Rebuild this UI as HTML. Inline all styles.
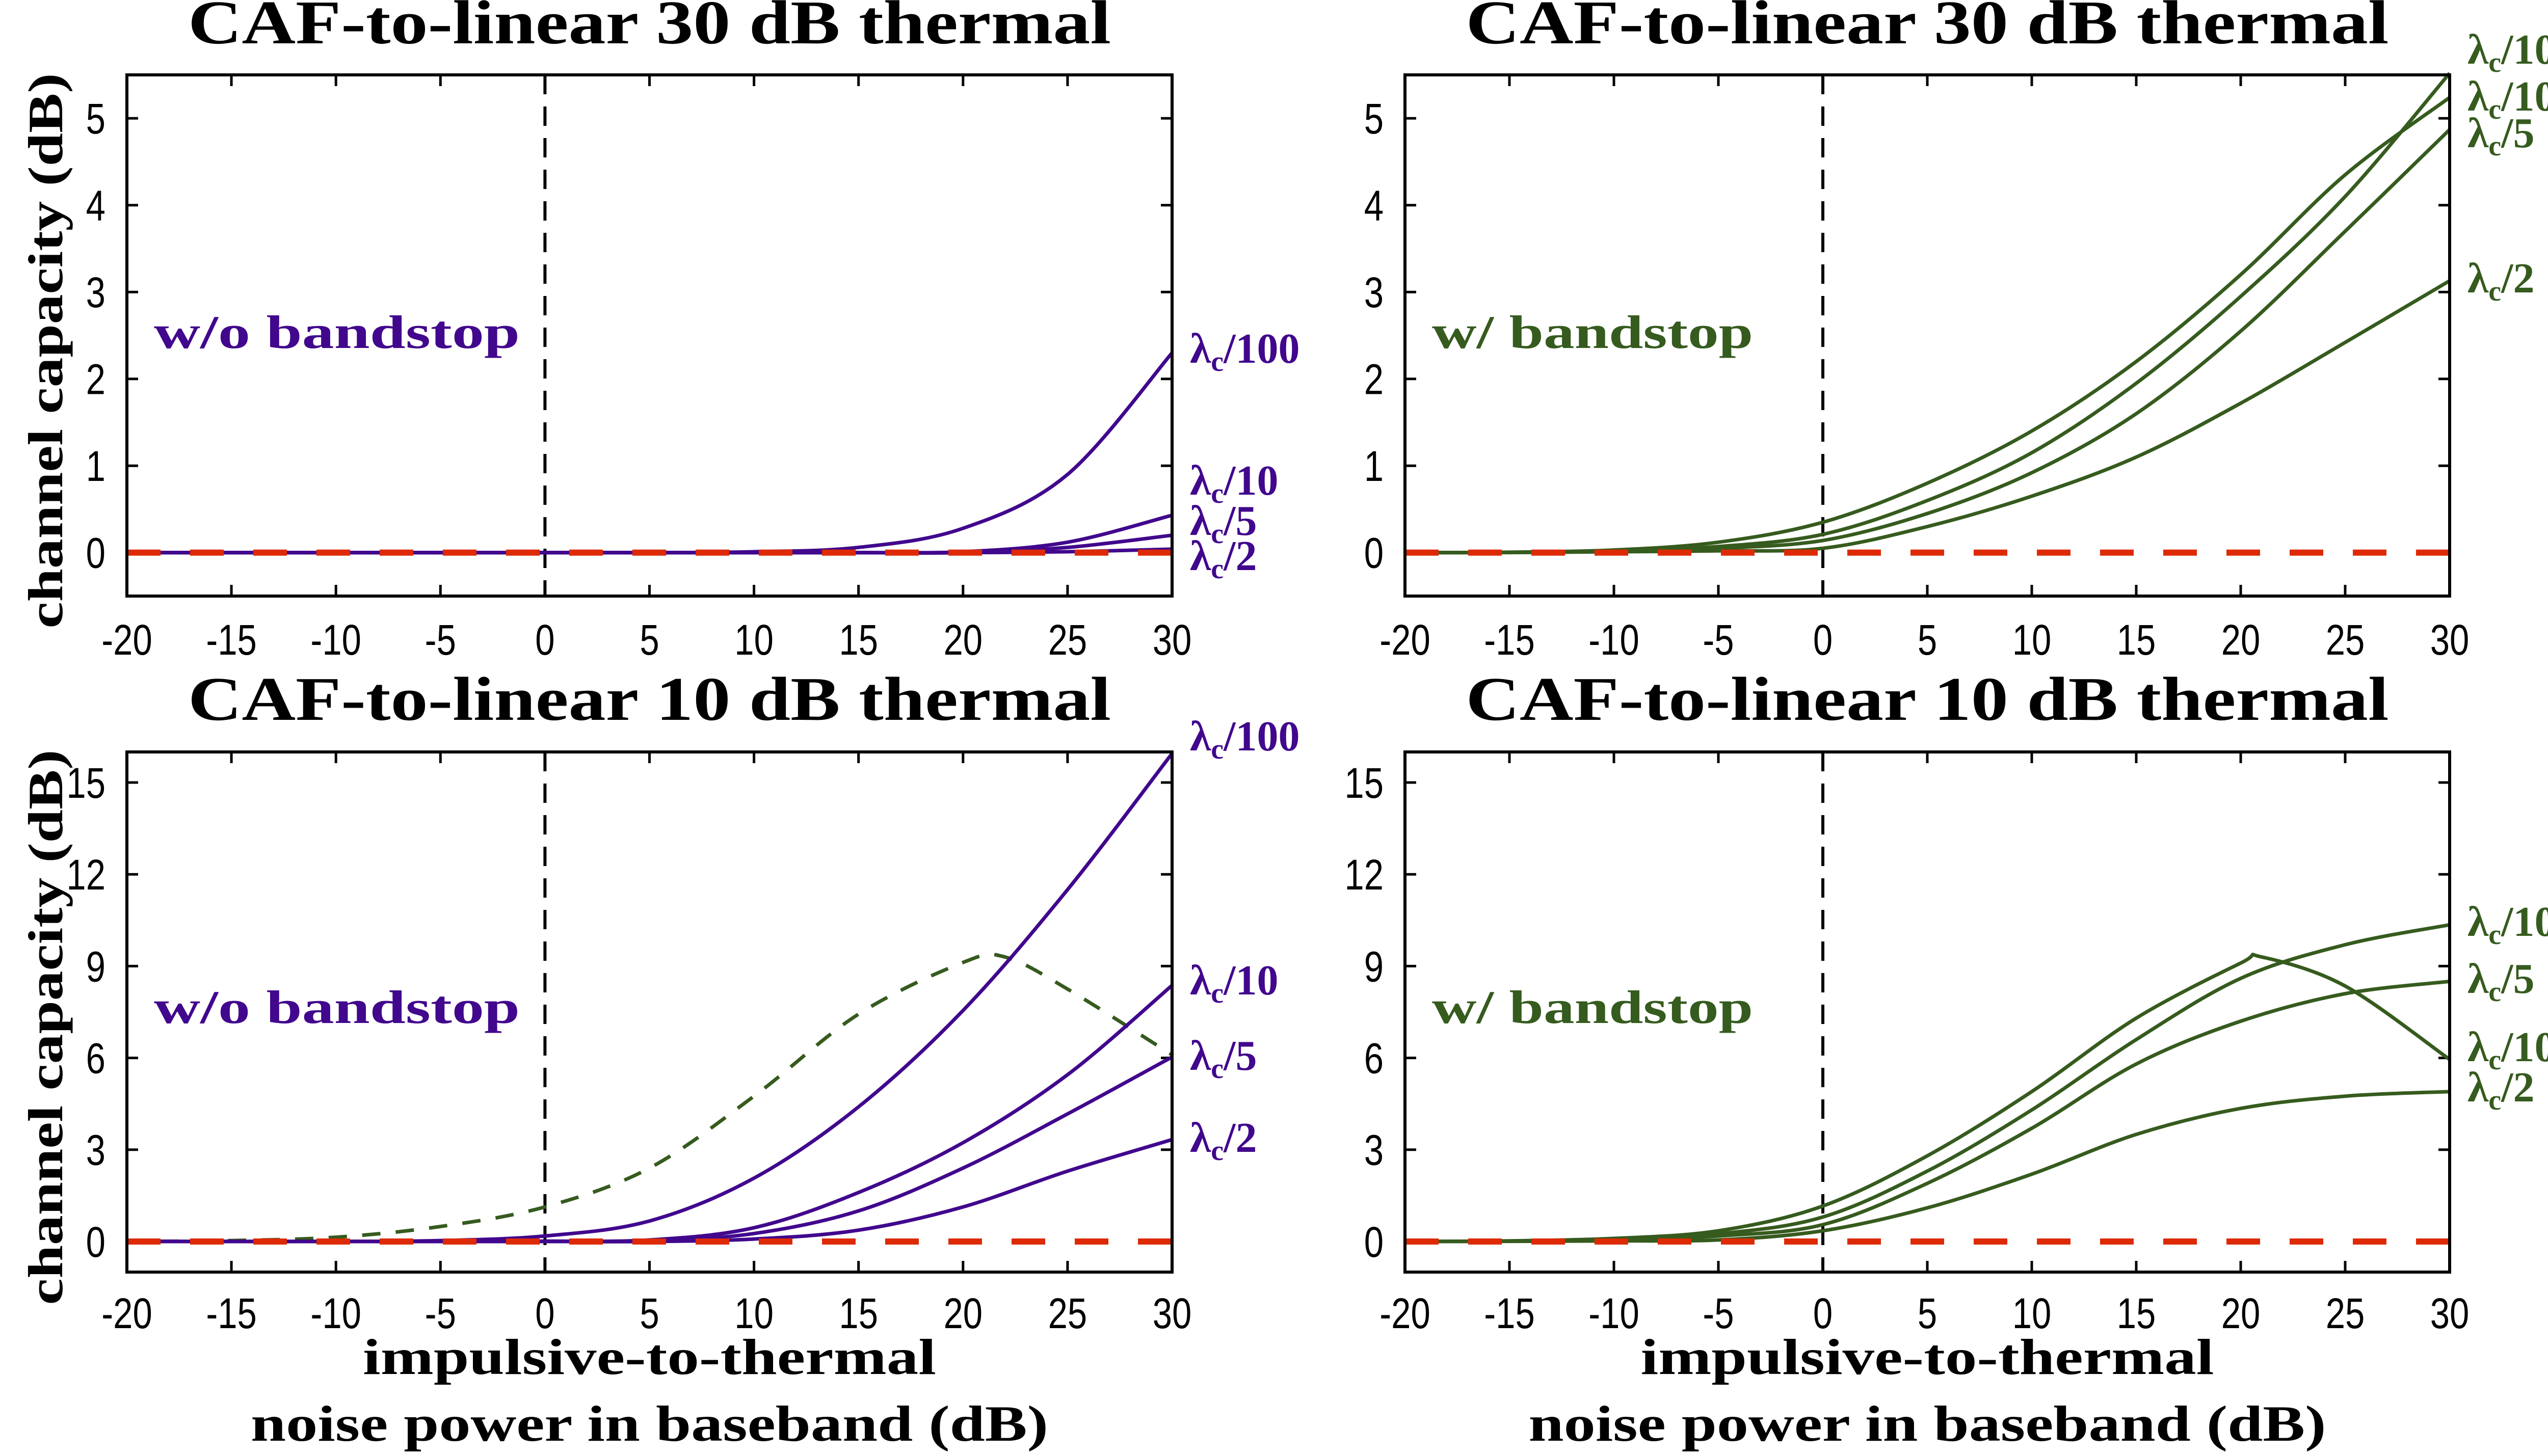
<!DOCTYPE html>
<html><head><meta charset="utf-8"><style>
html,body{margin:0;padding:0;background:#fff;overflow:hidden;}
svg{display:block;}
</style></head><body>
<svg id="fig" xmlns="http://www.w3.org/2000/svg" width="5145" height="2858" viewBox="0 0 5145 2858">
<rect width="5145" height="2858" fill="#fff"/>
</svg>
<script>
// ---- data ----
const xTicks = [-20,-15,-10,-5,0,5,10,15,20,25,30];
const yTicksTop = [0,1,2,3,4,5];
const yTicksBot = [0,3,6,9,12,15];
const xs = [-20,-15,-10,-5,0,5,10,15,20,25,30];
const xsPeak = [-20,-15,-10,-5,0,5,10,15,20,22,25,30];
const xsPeakBR = [-20,-15,-10,-5,0,5,10,15,20,21,25,30];

// panel A: 30 dB w/o bandstop
const a100 = [0,0,0,0,0,0,0.01,0.06,0.28,0.9,2.3];
const a10  = [0,0,0,0,0,0,0,0,0.01,0.12,0.43];
const a5   = [0,0,0,0,0,0,0,0,0,0.06,0.2];
const a2   = [0,0,0,0,0,0,0,0,0,0.01,0.04];
// panel B: 30 dB w/ bandstop
const b100 = [0,0.005,0.03,0.12,0.35,0.8,1.4,2.2,3.2,4.35,5.24];
const b10  = [0,0.003,0.02,0.07,0.21,0.6,1.15,1.95,2.95,4.1,5.52];
const b5   = [0,0.002,0.015,0.05,0.14,0.45,0.92,1.6,2.55,3.7,4.87];
const b2   = [0,0.001,0.01,0.02,0.05,0.3,0.65,1.1,1.72,2.42,3.13];
// panel C: 10 dB w/o bandstop
const c100 = [0,0,0,0.03,0.18,0.67,2.07,4.4,7.55,11.5,15.95];
const c10  = [0,0,0,0,0.01,0.05,0.45,1.6,3.23,5.45,8.37];
const c5   = [0,0,0,0,0,0.02,0.26,1.0,2.4,4.17,6.03];
const c2   = [0,0,0,0,0,0,0.08,0.37,1.13,2.3,3.33];
const cDash = [0,0.03,0.14,0.49,1.13,2.4,4.75,7.43,9.12,9.3,8.25,6.1];
// panel D: 10 dB w/ bandstop
const d100 = [0,0.02,0.1,0.35,1.16,2.8,4.9,7.3,9.1,9.3,8.35,5.95];
const d10  = [0,0.01,0.07,0.25,0.8,2.3,4.3,6.6,8.6,9.7,10.35];
const d5   = [0,0.01,0.05,0.18,0.55,1.9,3.7,5.8,7.2,8.1,8.5];
const d2   = [0,0.005,0.02,0.05,0.35,1.1,2.2,3.5,4.35,4.75,4.9];

const PURPLE = "#41078d", GREEN = "#365b1e", RED = "#dd2a05";
const NS = "http://www.w3.org/2000/svg";
const svg = document.getElementById("fig");

function mk(tag, attrs, parent, text){
  const e = document.createElementNS(NS, tag);
  for (const k in attrs) e.setAttribute(k, attrs[k]);
  if (text !== undefined) e.textContent = text;
  (parent || svg).appendChild(e);
  return e;
}
function smoothPath(pts){
  let d = "M" + pts[0][0].toFixed(1) + "," + pts[0][1].toFixed(1);
  for (let i = 0; i < pts.length - 1; i++){
    const p0 = pts[Math.max(i-1,0)], p1 = pts[i], p2 = pts[i+1], p3 = pts[Math.min(i+2,pts.length-1)];
    const c1x = p1[0] + (p2[0]-p0[0])/6, c1y = p1[1] + (p2[1]-p0[1])/6;
    const c2x = p2[0] - (p3[0]-p1[0])/6, c2y = p2[1] - (p3[1]-p1[1])/6;
    d += " C" + c1x.toFixed(1)+","+c1y.toFixed(1)+" "+c2x.toFixed(1)+","+c2y.toFixed(1)+" "+p2[0].toFixed(1)+","+p2[1].toFixed(1);
  }
  return d;
}

function panel(cfg){
  const g = mk("g", {});
  
  
  const L = cfg.x0, R = cfg.x1, T = cfg.y0, B = cfg.y1;
  const sx = v => L + (v + 20) / 50 * (R - L);
  const sy = v => B - (v - cfg.ymin) / (cfg.ymax - cfg.ymin) * (B - T);
  const tl = 22;
  for (const t of xTicks){
    const x = sx(t);
    const tk = mk("path", {d:`M${x},${B}V${B-tl}M${x},${T}V${T+tl}`, stroke:"#000","stroke-width":5, fill:"none"}, g);
    
    
    const lb = mk("text", {x:x, y:cfg.xtickY, "text-anchor":"middle", "font-family":"Liberation Sans, sans-serif", "font-size":84, fill:"#000", transform:`translate(${x},0) scale(0.82,1) translate(${-x},0)`}, g, String(t));
    
    
  }
  for (const t of cfg.yTicks){
    const y = sy(t);
    const tk = mk("path", {d:`M${L},${y}H${L+tl}M${R},${y}H${R-tl}`, stroke:"#000","stroke-width":5, fill:"none"}, g);
    
    
    const xr = L - 42;
    const lb = mk("text", {x:xr, y:y+30, "text-anchor":"end", "font-family":"Liberation Sans, sans-serif", "font-size":84, fill:"#000", transform:`translate(${xr},0) scale(0.82,1) translate(${-xr},0)`}, g, String(t));
    
    
  }
  const vz = mk("line", {x1:sx(0), x2:sx(0), y1:T, y2:B, stroke:"#000", "stroke-width":6, "stroke-dasharray":"38 24"}, g);
  
  
  for (const s of cfg.series){
    const pts = s.y.map((v,i) => [sx(s.x[i]), sy(v)]);
    const p = mk("path", {d:smoothPath(pts), fill:"none", stroke:s.color, "stroke-width":7, "stroke-linejoin":"round", "stroke-dasharray": s.dash || "none"}, g);
    
    
  }
  const rb = mk("line", {x1:sx(-20), x2:sx(30), y1:sy(0), y2:sy(0), stroke:RED, "stroke-width":12, "stroke-dasharray":"66 58"}, g);
  
  
  const bx = mk("rect", {x:L, y:T, width:R-L, height:B-T, fill:"none", stroke:"#000", "stroke-width":6}, g);
  
  
  const tt = mk("text", {x:(L+R)/2, y:cfg.titleY, "text-anchor":"middle", "font-family":"Liberation Serif, serif", "font-weight":"bold", "font-size":122, fill:"#000", textLength:1811, lengthAdjust:"spacingAndGlyphs"}, g, cfg.title);
  
  
  const an = mk("text", {x:L+53, y:cfg.annY, "font-family":"Liberation Serif, serif", "font-weight":"bold", "font-size":92, fill:cfg.color, textLength:cfg.annLen, lengthAdjust:"spacingAndGlyphs"}, g, cfg.ann);
  
  
  for (const lab of cfg.labels){
    const t = mk("text", {x:R+35, y:lab.y, "font-family":"Liberation Serif, serif", "font-weight":"bold", "font-size":84, fill:cfg.color}, g);
    
    
    mk("tspan", {}, t, "λ");
    mk("tspan", {dy:16, "font-size":56}, t, "c");
    mk("tspan", {dy:-16}, t, "/" + lab.t);
  }
  if (cfg.ylabel){
    const cy = (T + B) / 2 + 30;
    const yl = mk("text", {x:0, y:0, "text-anchor":"middle", "font-family":"Liberation Serif, serif", "font-weight":"bold", "font-size":96, fill:"#000", textLength:1090, lengthAdjust:"spacingAndGlyphs", transform:`translate(122,${cy}) rotate(-90)`}, g, "channel capacity (dB)");
    
    
  }
  if (cfg.xlabel){
    const cx = (L + R) / 2;
    const x1 = mk("text", {x:cx, y:2697, "text-anchor":"middle", "font-family":"Liberation Serif, serif", "font-weight":"bold", "font-size":100, fill:"#000", textLength:1125, lengthAdjust:"spacingAndGlyphs"}, g, "impulsive-to-thermal");
    
    
    const x2 = mk("text", {x:cx, y:2828, "text-anchor":"middle", "font-family":"Liberation Serif, serif", "font-weight":"bold", "font-size":100, fill:"#000", textLength:1565, lengthAdjust:"spacingAndGlyphs"}, g, "noise power in baseband (dB)");
    
    
  }
}

panel({name:"panel-30db-no-bandstop", x0:249, x1:2300, y0:147, y1:1170, ymin:-0.5, ymax:5.5, yTicks:yTicksTop,
  xtickY:1285, titleY:85, title:"CAF-to-linear 30 dB thermal", color:PURPLE, ann:"w/o bandstop", annY:683, annLen:718, ylabel:true,
  series:[{name:"series-lambda-100",x:xs,y:a100,color:PURPLE},{name:"series-lambda-10",x:xs,y:a10,color:PURPLE},{name:"series-lambda-5",x:xs,y:a5,color:PURPLE},{name:"series-lambda-2",x:xs,y:a2,color:PURPLE}],
  labels:[{t:"100",y:712},{t:"10",y:971},{t:"5",y:1050},{t:"2",y:1119}]});
panel({name:"panel-30db-bandstop", x0:2757, x1:4807, y0:147, y1:1170, ymin:-0.5, ymax:5.5, yTicks:yTicksTop,
  xtickY:1285, titleY:85, title:"CAF-to-linear 30 dB thermal", color:GREEN, ann:"w/ bandstop", annY:683, annLen:630,
  series:[{name:"series-lambda-100",x:xs,y:b100,color:GREEN},{name:"series-lambda-10",x:xs,y:b10,color:GREEN},{name:"series-lambda-5",x:xs,y:b5,color:GREEN},{name:"series-lambda-2",x:xs,y:b2,color:GREEN}],
  labels:[{t:"10",y:125},{t:"100",y:217},{t:"5",y:289},{t:"2",y:574}]});
panel({name:"panel-10db-no-bandstop", x0:249, x1:2300, y0:1476, y1:2497, ymin:-1, ymax:16, yTicks:yTicksBot,
  xtickY:2607, titleY:1413, title:"CAF-to-linear 10 dB thermal", color:PURPLE, ann:"w/o bandstop", annY:2008, annLen:718, ylabel:true, xlabel:true,
  series:[{name:"series-bandstop-reference",x:xsPeak,y:cDash,color:GREEN,dash:"36 30"},{name:"series-lambda-100",x:xs,y:c100,color:PURPLE},{name:"series-lambda-10",x:xs,y:c10,color:PURPLE},{name:"series-lambda-5",x:xs,y:c5,color:PURPLE},{name:"series-lambda-2",x:xs,y:c2,color:PURPLE}],
  labels:[{t:"100",y:1473},{t:"10",y:1952},{t:"5",y:2100},{t:"2",y:2261}]});
panel({name:"panel-10db-bandstop", x0:2757, x1:4807, y0:1476, y1:2497, ymin:-1, ymax:16, yTicks:yTicksBot,
  xtickY:2607, titleY:1413, title:"CAF-to-linear 10 dB thermal", color:GREEN, ann:"w/ bandstop", annY:2008, annLen:630, xlabel:true,
  series:[{name:"series-lambda-100",x:xsPeakBR,y:d100,color:GREEN},{name:"series-lambda-10",x:xs,y:d10,color:GREEN},{name:"series-lambda-5",x:xs,y:d5,color:GREEN},{name:"series-lambda-2",x:xs,y:d2,color:GREEN}],
  labels:[{t:"10",y:1837},{t:"5",y:1949},{t:"100",y:2083},{t:"2",y:2162}]});
</script>
</body></html>
